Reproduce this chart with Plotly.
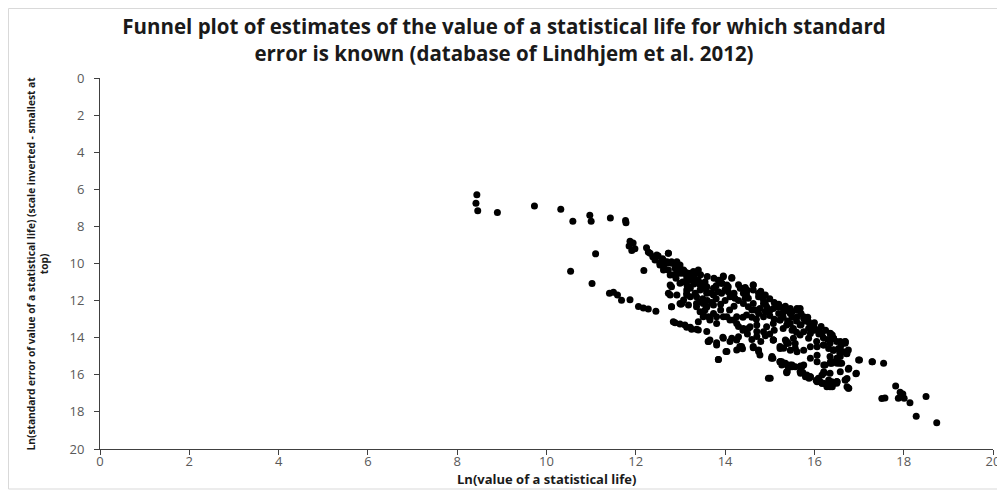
import plotly.graph_objects as go

# Ln(value of a statistical life) / Ln(standard error)
left_x = [8.44, 8.42, 8.46, 8.90, 9.73, 10.32, 10.59, 10.97, 11.00, 11.43, 11.77, 11.78,
          11.10, 10.54, 11.02, 11.41, 11.50, 11.59, 11.68, 11.87, 12.06, 12.17, 12.28, 12.45, 12.18]
left_y = [6.30, 6.75, 7.15, 7.25, 6.90, 7.08, 7.72, 7.40, 7.72, 7.55, 7.68, 7.80,
          9.48, 10.42, 11.08, 11.60, 11.55, 11.70, 11.98, 11.95, 12.32, 12.40, 12.45, 12.58, 10.38]

upper_x = [11.87, 11.94, 11.85, 11.98, 11.91, 12.24, 12.28, 12.32, 12.38, 12.43, 12.54, 12.62,
           12.73, 12.65, 12.73, 12.80, 12.88, 12.92, 12.99, 13.07, 13.14, 13.21, 13.29, 13.36,
           13.44, 13.51, 13.59, 13.21, 13.14, 13.07, 12.80, 12.77, 12.99, 12.80, 13.36, 13.44,
           13.55, 13.63, 12.47, 12.73, 12.58, 12.69, 12.80, 12.99, 12.54, 12.62, 12.77, 12.92,
           13.07, 13.18, 13.29, 13.40, 13.22, 13.36, 13.10, 12.99, 12.77, 13.22, 13.44, 13.59,
           13.74, 13.85, 13.96, 14.15, 13.93, 14.04, 14.07, 14.11, 14.22, 14.41, 14.34, 14.49,
           14.63, 14.52, 14.63, 14.75, 14.86, 14.93, 15.08, 15.23, 15.31, 15.46, 15.61, 15.68,
           15.76, 15.87, 15.98, 16.09, 16.17, 16.35, 16.43, 16.58, 16.69, 16.76, 16.58, 16.43]
upper_y = [8.80, 8.90, 9.06, 9.20, 9.30, 9.15, 9.38, 9.45, 9.63, 9.81, 9.99, 10.17,
           9.45, 9.90, 10.35, 9.99, 10.26, 9.90, 10.53, 10.44, 10.71, 10.89, 10.44, 10.53,
           11.07, 11.34, 11.61, 11.25, 11.70, 11.97, 11.25, 11.70, 12.15, 12.33, 11.79, 12.06,
           12.51, 12.87, 9.54, 9.45, 9.81, 9.99, 9.90, 10.08, 10.08, 10.35, 10.62, 10.53,
           10.35, 10.53, 10.44, 10.35, 10.80, 10.89, 10.98, 11.07, 11.16, 11.34, 11.43, 11.25,
           11.34, 11.52, 10.71, 10.80, 11.07, 11.16, 11.52, 11.79, 11.88, 11.61, 11.34, 11.43,
           11.16, 11.88, 12.15, 11.79, 11.97, 12.33, 12.42, 12.33, 12.60, 12.42, 12.51, 12.42,
           12.96, 13.14, 13.41, 13.59, 13.76, 13.76, 14.03, 14.21, 14.30, 14.66, 14.66, 14.66]

core_x = [16.35, 16.50, 16.61, 16.35, 16.20, 16.05, 15.87, 15.68, 15.53, 15.42, 15.31, 15.08,
          14.71, 14.71, 14.56, 14.41, 14.26, 14.19, 14.04, 13.81, 13.66, 13.51, 13.40, 13.44,
          13.59, 13.74, 13.51, 13.36, 13.22, 13.03, 12.80, 12.73, 12.92, 13.14,
          13.06, 13.96, 14.15, 13.92, 14.07, 13.44, 13.14, 13.33, 13.59, 13.74, 13.92, 14.19,
          14.37, 14.63, 14.75, 14.48, 14.41, 14.90, 15.01, 15.16, 15.31, 15.46, 15.61, 14.60,
          14.75, 14.86, 14.48, 14.26, 14.11, 13.96, 13.74, 13.51, 13.66, 13.81, 13.59, 13.36,
          13.18, 14.52, 14.71, 14.93, 15.08, 15.23, 15.38, 15.53, 14.86, 15.08, 15.23, 15.38,
          15.57, 14.45, 14.48, 14.63, 14.78, 14.86, 14.78, 14.67, 14.52]
core_y = [15.02, 15.11, 15.38, 14.30, 14.39, 14.21, 14.03, 13.85, 14.03, 14.30, 14.57, 14.12,
          13.94, 13.67, 13.41, 13.50, 13.23, 13.05, 12.87, 12.87, 12.96, 12.87, 13.14, 12.60,
          12.33, 12.24, 12.15, 12.33, 11.79, 12.15, 12.33, 11.61, 11.70, 11.61,
          10.53, 10.67, 10.75, 11.07, 11.25, 11.16, 11.43, 11.61, 11.52, 11.70, 11.61, 11.79,
          11.34, 11.16, 11.61, 11.70, 12.15, 12.15, 12.51, 12.33, 12.60, 12.69, 12.87, 12.51,
          12.69, 12.87, 12.78, 12.87, 13.05, 12.87, 12.69, 12.69, 13.05, 13.23, 12.33, 12.15,
          12.24, 13.50, 13.32, 13.41, 13.23, 13.05, 13.32, 13.50, 13.68, 14.12, 14.48, 14.21,
          14.57, 11.88, 11.52, 11.43, 11.79, 12.15, 12.42, 12.51, 12.33]

dense_x = [13.50, 13.60, 13.70, 13.80, 13.90, 14.00, 13.70, 13.80, 14.00, 14.20, 14.30, 14.20,
           14.10, 13.90, 14.40, 14.60, 14.70, 14.90, 15.00, 15.10, 15.20, 15.30, 15.40, 15.50,
           15.60, 15.70, 15.80, 15.90, 16.00, 16.10, 16.20, 16.30, 15.60, 15.50, 15.30, 15.10,
           15.00, 14.90, 14.80, 14.60, 14.50, 14.40, 14.30, 12.50, 12.60, 12.70, 12.90, 13.00,
           13.10, 13.20, 13.30, 13.40, 13.55, 13.30, 13.15, 13.05, 12.90, 12.85, 13.45, 13.60,
           13.75, 13.85, 14.30, 14.45, 14.80, 14.90, 15.00, 15.10, 15.20, 15.35, 15.50, 15.70,
           15.85, 16.00, 16.15, 16.25, 16.40, 16.50, 16.60]
dense_y = [11.90, 12.00, 12.10, 11.90, 12.20, 12.00, 11.60, 11.20, 11.40, 11.60, 12.00, 12.30,
           12.50, 12.50, 12.90, 12.90, 13.00, 12.60, 12.80, 13.00, 12.70, 12.90, 13.10, 12.90,
           13.10, 13.30, 13.10, 13.30, 13.60, 13.80, 14.00, 14.10, 13.70, 13.60, 13.50, 13.60,
           13.80, 13.90, 14.20, 14.10, 13.80, 13.60, 13.40, 9.60, 9.75, 9.90, 10.10, 10.30,
           10.45, 10.60, 10.75, 10.90, 11.00, 11.10, 11.20, 11.00, 10.80, 10.60, 10.60, 10.70,
           10.80, 10.90, 11.15, 11.30, 11.50, 11.70, 11.90, 12.10, 12.20, 12.30, 12.60, 12.70,
           12.90, 13.20, 13.40, 13.60, 13.85, 14.20, 14.40]

lower_x = [12.88, 12.99, 13.10, 13.22, 13.36, 12.84, 13.14, 13.25, 13.40, 13.59, 13.66, 13.81,
           13.62, 13.85, 14.02, 13.95, 14.15, 14.26, 14.37, 14.39, 14.63, 14.75, 14.78, 14.97,
           15.07, 15.23, 15.27, 15.42, 15.50, 15.38, 15.72, 15.74, 15.83, 15.88, 16.04, 16.13,
           16.21, 16.28, 16.35, 16.43, 16.50, 16.73, 16.17, 16.35, 16.58, 16.73,
           13.63, 13.81, 13.96, 14.11, 14.30, 14.33, 14.26, 14.04, 13.85, 14.63, 14.75, 15.04,
           15.23, 15.46, 15.57, 15.24, 15.39, 15.69, 15.39, 15.69, 15.80, 15.91, 16.06, 16.21,
           16.21, 16.36, 16.51, 16.17, 16.28, 16.40, 16.51, 13.01]
lower_y = [13.19, 13.26, 13.32, 13.44, 13.55, 13.14, 13.44, 13.55, 13.58, 13.67, 14.12, 14.39,
           14.20, 15.17, 14.75, 13.98, 14.03, 14.12, 14.48, 14.60, 14.54, 14.66, 14.93, 16.19,
           15.11, 15.29, 15.47, 15.60, 15.47, 15.89, 15.56, 15.88, 16.10, 16.19, 16.31, 16.37,
           16.46, 16.55, 16.64, 16.46, 16.37, 16.64, 16.01, 15.92, 15.83, 16.20,
           14.21, 14.27, 14.03, 14.21, 13.95, 14.48, 14.66, 14.75, 15.17, 14.48, 14.75, 15.11,
           15.29, 15.47, 15.56, 15.29, 15.47, 15.52, 15.83, 15.92, 16.10, 16.10, 16.28, 15.92,
           15.47, 15.38, 15.38, 16.46, 16.64, 16.64, 16.37, 12.20]

right_x = [15.16, 15.38, 15.61, 15.76, 15.23, 15.46, 15.68, 15.87, 15.98, 16.09, 15.91, 15.76,
           16.36, 16.43, 16.69, 15.08, 15.35, 15.38, 15.57, 15.23, 15.46, 15.61, 15.76, 15.91,
           16.06, 16.21, 16.32, 16.43, 16.54, 16.65, 16.73, 16.58, 16.47, 16.36, 16.24, 16.06,
           15.91, 16.06, 15.05, 15.27, 15.35, 15.50, 15.68, 15.76, 15.38, 15.68, 15.83, 15.91,
           16.09, 16.21, 16.06, 16.17, 16.28, 16.43, 16.32, 16.50, 16.69, 16.77, 16.77, 16.99,
           16.94, 17.29, 17.55, 15.01,
           16.69, 16.42, 16.57, 16.72, 16.39, 16.57, 17.01, 17.30, 16.76, 16.93, 16.39, 16.50,
           16.69, 16.76]
right_y = [12.33, 12.51, 12.42, 12.87, 13.05, 13.23, 13.32, 13.50, 13.41, 13.59, 13.77, 13.68,
           13.77, 14.04, 14.22, 14.13, 14.13, 14.31, 14.31, 14.58, 14.67, 14.76, 14.67, 14.49,
           14.49, 14.40, 14.58, 14.67, 14.58, 14.76, 14.85, 15.02, 15.29, 15.29, 15.47, 15.29,
           15.11, 14.94, 15.02, 15.29, 15.38, 15.56, 15.56, 15.47, 15.83, 15.83, 16.01, 16.10,
           16.19, 15.83, 16.37, 16.46, 16.55, 16.46, 16.28, 16.37, 16.28, 16.73, 15.65, 15.20,
           15.92, 15.29, 15.38, 16.19,
           14.21, 14.66, 14.84, 14.87, 15.38, 15.38, 15.20, 15.29, 15.70, 15.95, 16.37, 16.46,
           16.28, 16.73]

tail_x = [17.82, 17.92, 17.98, 17.51, 17.58, 17.88, 18.01, 18.14, 18.50, 18.28, 18.74]
tail_y = [16.60, 16.94, 17.03, 17.28, 17.25, 17.27, 17.27, 17.50, 17.17, 18.23, 18.59]

xs = left_x + upper_x + core_x + dense_x + lower_x + right_x + tail_x
ys = left_y + upper_y + core_y + dense_y + lower_y + right_y + tail_y

x_ticks = [0, 2, 4, 6, 8, 10, 12, 14, 16, 18, 20]
y_ticks = [0, 2, 4, 6, 8, 10, 12, 14, 16, 18, 20]

title_text = ("Funnel plot of estimates of the value of a statistical life for which standard<br>"
              "error is known (database of Lindhjem et al. 2012)")
x_title = "Ln(value of a statistical life)"
y_title = ("Ln(standard error of value of a statistical life) (scale inverted - smallest at<br>top)")

# the page body adds an 8 px offset; figure sized so plot area lands on the reference
OFF = 8
W, H = 997, 483
PL, PR, PT, PB = 92, 12, 70, 42
PW, PH = W - PL - PR, H - PT - PB

fig = go.Figure()
fig.add_trace(go.Scatter(
    x=xs, y=ys, mode="markers",
    marker=dict(color="black", size=7, line=dict(width=0)),
    hoverinfo="x+y", showlegend=False,
))

font_family = "Open Sans, Liberation Sans, sans-serif"
tick_col = "#595959"

fig.update_layout(
    width=W, height=H,
    margin=dict(l=PL, r=PR, t=PT, b=PB, autoexpand=False),
    paper_bgcolor="white", plot_bgcolor="white",
    title=dict(text=title_text, x=(504 - OFF) / W, xanchor="center", xref="container",
               y=1 - 26 / H, yref="container", yanchor="middle",
               font=dict(family=font_family, size=20.5, color="#1a1a1a", weight="bold")),
    font=dict(family=font_family, color=tick_col),
    xaxis=dict(range=[0, 20], tickvals=x_ticks, ticktext=[str(v) for v in x_ticks],
               showgrid=False, zeroline=False, showline=True, linecolor="#404040", linewidth=1,
               ticks="outside", ticklen=5, tickcolor="#404040", tickfont=dict(size=13, color=tick_col),
               ticklabelstandoff=-5, automargin=False),
    yaxis=dict(range=[20, 0], tickvals=y_ticks, ticktext=[str(v) for v in y_ticks],
               showgrid=False, zeroline=False, showline=True, linecolor="#404040", linewidth=1,
               ticks="outside", ticklen=5, tickcolor="#404040", tickfont=dict(size=13, color=tick_col),
               ticklabelstandoff=7, automargin=False),
    annotations=[
        dict(text=x_title, xref="paper", yref="paper", x=0.5, y=(PH - (471 - PT)) / PH,
             xanchor="center", yanchor="middle", showarrow=False,
             font=dict(family=font_family, size=13, color="#1a1a1a", weight="bold")),
        dict(text=y_title, xref="paper", yref="paper", x=(29 - PL) / PW, y=0.5,
             xanchor="center", yanchor="middle", showarrow=False, textangle=-90,
             font=dict(family=font_family, size=10.2, color="#1a1a1a", weight="bold")),
    ],
    shapes=[dict(type="rect", xref="paper", yref="paper",
                 x0=(0.5 - PL) / PW, x1=(992 - PL) / PW,
                 y0=(PH - (481 - PT)) / PH, y1=(PH - (0.5 - PT)) / PH,
                 line=dict(color="#d9d9d9", width=1), fillcolor="rgba(0,0,0,0)", layer="below")],
)

fig.write_html("out.html")
